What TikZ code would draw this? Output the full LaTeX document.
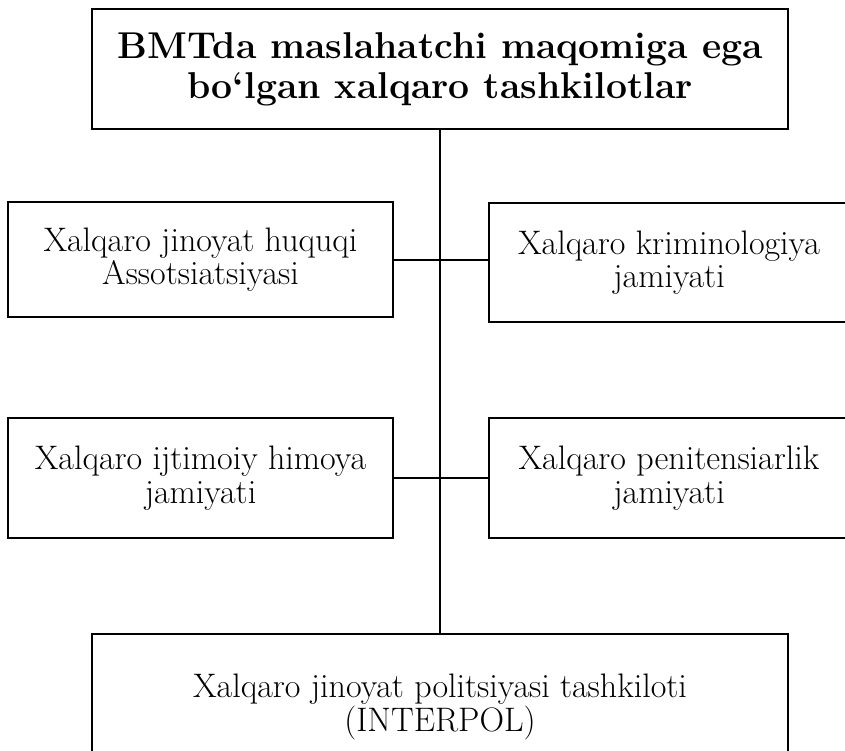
\documentclass[tikz,border=0pt]{standalone}
\usepackage{fontspec}
\begin{document}
\begin{tikzpicture}[x=0.75pt,y=0.75pt] % organisations chart
\tikzstyle{every node}+=[inner sep=0pt]
\tikzstyle{orgbox}=[draw=black, line width=1.5pt, align=center, font=\fontsize{25.5}{25}\selectfont]
\useasboundingbox (0,0) rectangle (845,-750);
\node [orgbox, minimum width=522pt, minimum height=90pt, font=\fontsize{28}{30}\selectfont\bfseries] (top) at (440,-69) {BMTda maslahatchi maqomiga ega\\bo‘lgan xalqaro tashkilotlar};
\node [orgbox, minimum width=288.75pt, minimum height=86.25pt] (jhuq) at (200.5,-259.5) {Xalqaro jinoyat huquqi\\Assotsiatsiyasi};
\node [orgbox, minimum width=270pt, minimum height=89.25pt] (krim) at (669,-262.5) {Xalqaro kriminologiya\\jamiyati};
\node [orgbox, minimum width=288.75pt, minimum height=90pt] (himoya) at (200.5,-478) {Xalqaro ijtimoiy himoya\\jamiyati};
\node [orgbox, minimum width=270pt, minimum height=90pt] (penit) at (669,-478) {Xalqaro penitensiarlik\\jamiyati};
\node [orgbox, minimum width=522pt, minimum height=109.5pt] (interpol) at (440,-707) {Xalqaro jinoyat politsiyasi tashkiloti\\(INTERPOL)};
\draw [black, line width=1.5pt] (top.south) -- (interpol.north);
\draw [black, line width=1.5pt] (jhuq.east) -- (jhuq.east -| krim.west);
\draw [black, line width=1.5pt] (himoya.east) -- (penit.west);
\end{tikzpicture}
\end{document}
